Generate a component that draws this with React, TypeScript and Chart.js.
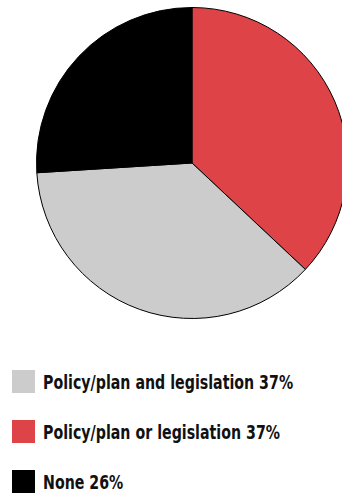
import React, { useEffect, useRef } from "react";
import { Chart, registerables } from "chart.js";

Chart.register(...registerables);

// Data (drawing order, clockwise from 12 o'clock)
const sliceLabels = ["Policy/plan or legislation", "Policy/plan and legislation", "None"];
const sliceValues = [37, 37, 26];
const sliceColors = ["#DE4447", "#CCCCCC", "#000000"];

// Legend order
const legendOrder = [1, 0, 2];

export default function App() {
  const ref = useRef<HTMLCanvasElement | null>(null);

  useEffect(() => {
    if (!ref.current) return;
    const chart = new Chart(ref.current, {
      type: "pie",
      data: {
        labels: sliceLabels,
        datasets: [
          {
            data: sliceValues,
            backgroundColor: sliceColors,
            borderColor: "#000000",
            borderWidth: 1,
          },
        ],
      },
      options: {
        responsive: false,
        animation: false,
        layout: { padding: 0 },
        plugins: {
          legend: { display: false },
          tooltip: { enabled: false },
        },
      },
    });
    return () => chart.destroy();
  }, []);

  return (
    <div
      style={{
        position: "absolute",
        left: 0,
        top: 0,
        width: 342,
        height: 493,
        overflow: "hidden",
        background: "#fff",
      }}
    >
      <canvas
        ref={ref}
        width={312}
        height={312}
        style={{ position: "absolute", left: 36, top: 7, width: 312, height: 312 }}
      />
      {legendOrder.map((idx, i) => (
        <div
          key={idx}
          style={{
            position: "absolute",
            left: 12,
            top: 370 + i * 50,
            height: 23,
            display: "flex",
            alignItems: "center",
            whiteSpace: "nowrap",
          }}
        >
          <div style={{ width: 23, height: 23, background: sliceColors[idx], flex: "none" }} />
          <span
            style={{
              marginLeft: 8,
              display: "inline-block",
              transform: "scaleX(0.71)",
              transformOrigin: "left center",
              fontFamily: "'DejaVu Sans', sans-serif",
              fontWeight: 700,
              fontSize: 20,
              color: "#111",
            }}
          >
            {`${sliceLabels[idx]} ${sliceValues[idx]}%`}
          </span>
        </div>
      ))}
    </div>
  );
}
